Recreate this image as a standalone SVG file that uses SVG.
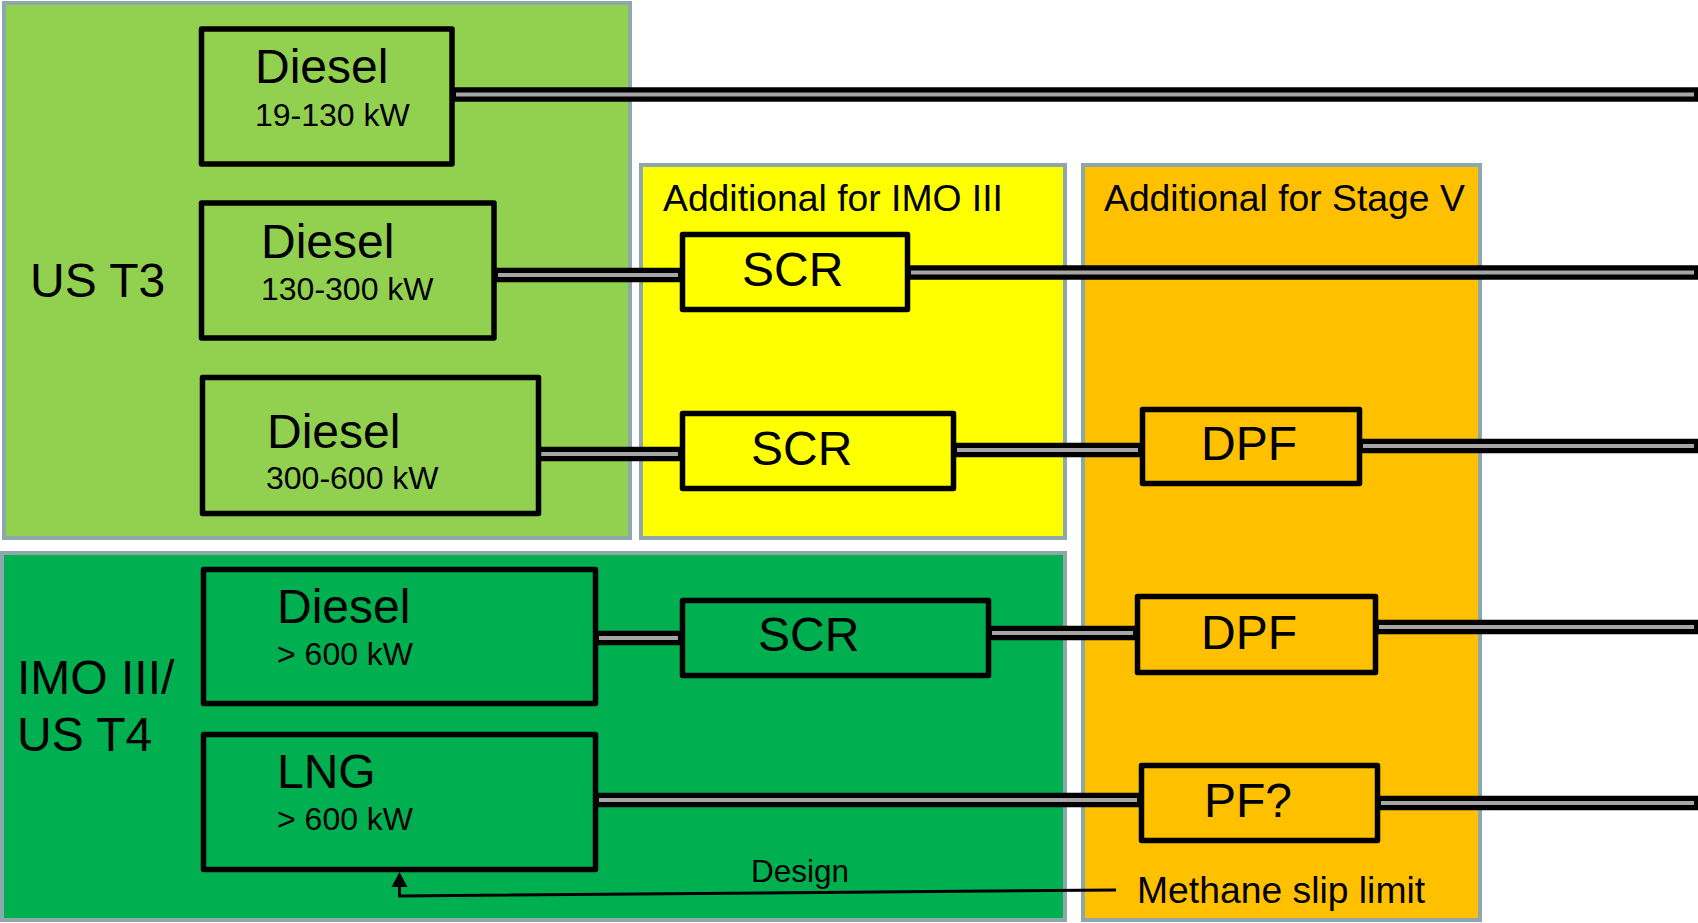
<svg xmlns="http://www.w3.org/2000/svg" width="1698" height="923" viewBox="0 0 1698 923">
<defs>
<style>
.panel{stroke:#8EA7AA;stroke-width:4}
.box{stroke:#000;stroke-width:5.5;stroke-linejoin:round}
.t{font-family:"Liberation Sans",Arial,sans-serif;fill:#000}
.big{font-size:48px}
.small{font-size:32px}
.hdr{font-size:37.3px}
.cout{stroke:#000;stroke-width:14.5;fill:none}
.cin{stroke:#A6A6A6;stroke-width:4;fill:none}
</style>
</defs>
<rect width="1698" height="923" fill="#fff"/>
<g id="panels">
<rect id="panel-ust3" class="panel" x="4" y="3" width="626" height="535" fill="#92D050"/>
<rect id="panel-imo" class="panel" x="641" y="165" width="424" height="373" fill="#FFFF00"/>
<rect id="panel-stagev" class="panel" x="1083" y="165" width="397" height="755" fill="#FFC000"/>
<rect id="panel-imo-t4" class="panel" x="2" y="553" width="1063" height="367" fill="#00B050"/>
<text class="t big" x="30" y="297">US T3</text>
<text class="t big" x="17" y="694">IMO III/</text>
<text class="t big" x="17" y="751">US T4</text>
<text class="t hdr" x="663" y="211">Additional for IMO III</text>
<text class="t hdr" x="1104" y="211">Additional for Stage V</text>
</g>
<g id="connectors">
<line class="cout" x1="452" y1="94.5" x2="1702" y2="94.5"/><line class="cin" x1="456" y1="94.5" x2="1694" y2="94.5"/>
<line class="cout" x1="494" y1="275" x2="682" y2="275"/><line class="cin" x1="498" y1="275" x2="678" y2="275"/>
<line class="cout" x1="907" y1="272.5" x2="1702" y2="272.5"/><line class="cin" x1="911" y1="272.5" x2="1694" y2="272.5"/>
<line class="cout" x1="537" y1="454" x2="682" y2="454"/><line class="cin" x1="541" y1="454" x2="678" y2="454"/>
<line class="cout" x1="953" y1="450" x2="1142" y2="450"/><line class="cin" x1="957" y1="450" x2="1138" y2="450"/>
<line class="cout" x1="1359" y1="446" x2="1702" y2="446"/><line class="cin" x1="1363" y1="446" x2="1694" y2="446"/>
<line class="cout" x1="595" y1="638" x2="682" y2="638"/><line class="cin" x1="599" y1="638" x2="678" y2="638"/>
<line class="cout" x1="988" y1="633" x2="1137" y2="633"/><line class="cin" x1="992" y1="633" x2="1133" y2="633"/>
<line class="cout" x1="1375" y1="627" x2="1702" y2="627"/><line class="cin" x1="1379" y1="627" x2="1694" y2="627"/>
<line class="cout" x1="595" y1="800" x2="1141" y2="800"/><line class="cin" x1="599" y1="800" x2="1137" y2="800"/>
<line class="cout" x1="1377" y1="803" x2="1702" y2="803"/><line class="cin" x1="1381" y1="803" x2="1694" y2="803"/>
<polyline points="1116,890 399.5,896 399.5,885" fill="none" stroke="#000" stroke-width="3"/>
<polygon points="399.5,872 391.5,887 407.5,887" fill="#000"/>
<text class="t" font-size="31.5" x="751" y="882">Design</text>
<text class="t hdr" x="1137" y="903">Methane slip limit</text>
</g>
<g id="diesel-19-130">
<rect class="box" x="201.5" y="29" width="250.5" height="135" fill="#92D050"/>
<text class="t big" x="255" y="83">Diesel</text>
<text class="t small" x="255" y="126">19-130 kW</text>
</g>
<g id="diesel-130-300">
<rect class="box" x="201.5" y="203" width="292.5" height="135" fill="#92D050"/>
<text class="t big" x="261" y="258">Diesel</text>
<text class="t small" x="261" y="300">130-300 kW</text>
</g>
<g id="diesel-300-600">
<rect class="box" x="202.5" y="377.5" width="336" height="136" fill="#92D050"/>
<text class="t big" x="267" y="448">Diesel</text>
<text class="t small" x="266" y="489">300-600 kW</text>
</g>
<g id="diesel-600">
<rect class="box" x="203.5" y="569.5" width="392" height="134" fill="#00B050"/>
<text class="t big" x="277" y="623">Diesel</text>
<text class="t small" x="277" y="665">&gt; 600 kW</text>
</g>
<g id="lng-600">
<rect class="box" x="203.5" y="734.5" width="392" height="135" fill="#00B050"/>
<text class="t big" x="277" y="788">LNG</text>
<text class="t small" x="277" y="830">&gt; 600 kW</text>
</g>
<g id="scr-1">
<rect class="box" x="682.5" y="234.5" width="225" height="75" fill="#FFFF00"/>
<text class="t big" x="742" y="286">SCR</text>
</g>
<g id="scr-2">
<rect class="box" x="682.5" y="413.5" width="271" height="75" fill="#FFFF00"/>
<text class="t big" x="751" y="465">SCR</text>
</g>
<g id="scr-3">
<rect class="box" x="682.5" y="600.5" width="306" height="75" fill="#00B050"/>
<text class="t big" x="758" y="651">SCR</text>
</g>
<g id="dpf-1">
<rect class="box" x="1142.5" y="409.5" width="217" height="74" fill="#FFC000"/>
<text class="t big" x="1201" y="460">DPF</text>
</g>
<g id="dpf-2">
<rect class="box" x="1137.5" y="596.5" width="238" height="76" fill="#FFC000"/>
<text class="t big" x="1201" y="649">DPF</text>
</g>
<g id="pf">
<rect class="box" x="1141.5" y="765.5" width="236" height="75" fill="#FFC000"/>
<text class="t big" x="1204" y="817">PF?</text>
</g>
</svg>
